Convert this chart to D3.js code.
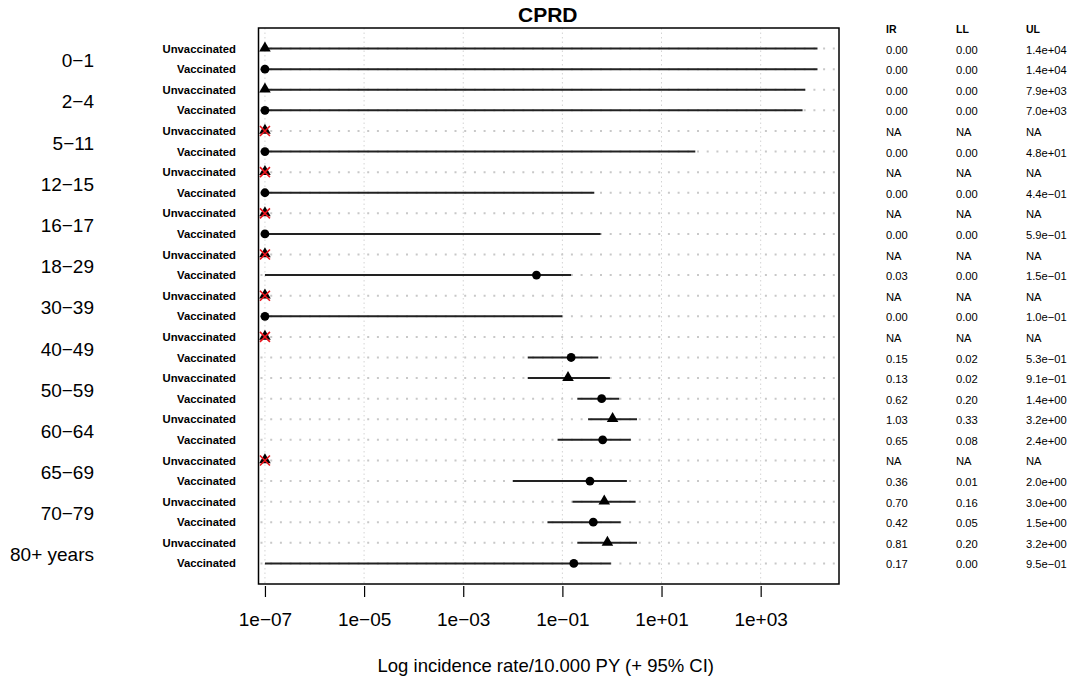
<!DOCTYPE html>
<html>
<head>
<meta charset="utf-8">
<script src="https://cdn.jsdelivr.net/npm/d3@7"></script>
<style>
  body { margin: 0; background: #fff; }
  svg { display: block; }
  text { font-family: "Liberation Sans", Arial, Helvetica, sans-serif; fill: #000; }
</style>
</head>
<body>
<svg id="chart" width="1068" height="679"></svg>
<script>
// ---------------- data ----------------
const title = "CPRD";
const ageGroups = ["0\u22121", "2\u22124", "5\u221211", "12\u221215", "16\u221217", "18\u221229",
  "30\u221239", "40\u221249", "50\u221259", "60\u221264", "65\u221269", "70\u221279", "80+ years"];
const status = ["Unvaccinated", "Vaccinated"];
// 26 rows: Unvaccinated / Vaccinated for each age group (null = NA)
const ir = [0.00, 0.00, 0.00, 0.00, null, 0.00, null, 0.00, null, 0.00, null, 0.03, null,
  0.00, null, 0.15, 0.13, 0.62, 1.03, 0.65, null, 0.36, 0.70, 0.42, 0.81, 0.17];
const ll = [0.00, 0.00, 0.00, 0.00, null, 0.00, null, 0.00, null, 0.00, null, 0.00, null,
  0.00, null, 0.02, 0.02, 0.20, 0.33, 0.08, null, 0.01, 0.16, 0.05, 0.20, 0.00];
const ul = [1.4e4, 1.4e4, 7.9e3, 7.0e3, null, 4.8e1, null, 4.4e-1, null, 5.9e-1, null, 1.5e-1, null,
  1.0e-1, null, 5.3e-1, 9.1e-1, 1.4, 3.2, 2.4, null, 2.0, 3.0, 1.5, 3.2, 9.5e-1];
const tickValues = [1e-7, 1e-5, 1e-3, 1e-1, 1e1, 1e3];
const tickLabels = ["1e\u221207", "1e\u221205", "1e\u221203", "1e\u221201", "1e+01", "1e+03"];
const tableHeaders = ["IR", "LL", "UL"];
const xTitle = "Log incidence rate/10.000 PY (+ 95% CI)";
const floorValue = 1e-7; // zero / NA values are drawn at the lower limit

// ---------------- layout ----------------
const box = { left: 258.5, right: 839, top: 28, bottom: 584 };
const nRows = ir.length;
const rows = d3.range(nRows).map(i => ({
  i,
  label: status[i % 2],
  ir: ir[i], ll: ll[i], ul: ul[i],
  na: ir[i] === null
}));

const svg = d3.select("#chart");

const x = d3.scaleLog()
  .domain([Math.pow(10, -7.13), Math.pow(10, 4.58)])
  .range([box.left, box.right]);
const y = d3.scaleLinear()
  .domain([-1, nRows])
  .range([box.top, box.bottom]);
const clampV = v => Math.max(v, floorValue);

// vertical dotted grid at ticks
svg.append("g").selectAll("line").data(tickValues).join("line")
  .attr("x1", d => x(d)).attr("x2", d => x(d))
  .attr("y1", box.top).attr("y2", box.bottom)
  .attr("stroke", "#d4d4d4").attr("stroke-width", 1)
  .attr("stroke-dasharray", "1.5 3");

// horizontal dotted grid per row
svg.append("g").selectAll("line").data(rows).join("line")
  .attr("x1", box.left).attr("x2", box.right)
  .attr("y1", d => y(d.i)).attr("y2", d => y(d.i))
  .attr("stroke", "#c8c8c8").attr("stroke-width", 2)
  .attr("stroke-dasharray", "2 7.7")
  .attr("stroke-dashoffset", -2);

// CI lines
svg.append("g").selectAll("line").data(rows.filter(d => !d.na)).join("line")
  .attr("x1", d => x(clampV(d.ll))).attr("x2", d => x(clampV(d.ul)))
  .attr("y1", d => y(d.i)).attr("y2", d => y(d.i))
  .attr("stroke", "#222").attr("stroke-width", 2);

// markers
const tri = d3.symbol().type(d3.symbolTriangle).size(58);
const marks = svg.append("g");
rows.forEach(d => {
  const cx = x(clampV(d.na ? floorValue : d.ir));
  const cy = y(d.i);
  if (d.label === "Unvaccinated") {
    marks.append("path").attr("d", tri()).attr("transform", `translate(${cx},${cy - 0.5})`).attr("fill", "#000");
  } else {
    marks.append("circle").attr("cx", cx).attr("cy", cy).attr("r", 4.4).attr("fill", "#000");
  }
  if (d.na) {
    const s = 5;
    marks.append("path")
      .attr("d", `M${cx - s},${cy - s}L${cx + s},${cy + s}M${cx - s},${cy + s}L${cx + s},${cy - s}`)
      .attr("stroke", "#e8141c").attr("stroke-width", 1.6).attr("fill", "none");
  }
});

// box
svg.append("rect")
  .attr("x", box.left).attr("y", box.top)
  .attr("width", box.right - box.left).attr("height", box.bottom - box.top)
  .attr("fill", "none").attr("stroke", "#000").attr("stroke-width", 1.5);

// title
svg.append("text").attr("x", (box.left + box.right) / 2 - 1).attr("y", 22)
  .attr("text-anchor", "middle").attr("font-size", 21).attr("font-weight", "bold").text(title);

// x axis (ticks + labels)
const axisG = svg.append("g").attr("transform", `translate(0,${box.bottom + 2})`);
const axis = d3.axisBottom(x).tickValues(tickValues)
  .tickFormat((d, i) => tickLabels[i]).tickSize(11).tickPadding(16);
axisG.call(axis);
axisG.select(".domain").remove();
axisG.selectAll(".tick line").attr("stroke", "#000").attr("stroke-width", 1.2);
axisG.selectAll(".tick text").attr("font-size", 19).attr("font-family", "Liberation Sans, Arial, sans-serif").attr("fill", "#000");

// x title
svg.append("text").attr("x", (box.left + box.right) / 2 - 3).attr("y", 672)
  .attr("text-anchor", "middle").attr("font-size", 18.5).text(xTitle);

// row labels
svg.append("g").selectAll("text").data(rows).join("text")
  .attr("x", 236).attr("y", d => y(d.i)).attr("dy", "0.36em")
  .attr("text-anchor", "end").attr("font-size", 11.3).attr("font-weight", "bold")
  .text(d => d.label);

// age group labels (centred on each pair of rows)
svg.append("g").selectAll("text").data(ageGroups).join("text")
  .attr("x", 94).attr("y", (d, k) => (y(2 * k) + y(2 * k + 1)) / 2 + 1.5).attr("dy", "0.36em")
  .attr("text-anchor", "end").attr("font-size", 19)
  .text(d => d);

// table on the right
const colX = [886, 956, 1026];
const fmtFixed = v => v === null ? "NA" : v.toFixed(2);
const fmtExp = v => {
  if (v === null) return "NA";
  const [m, e] = v.toExponential(1).split("e");
  const sign = e[0] === "-" ? "\u2212" : "+";
  const digits = e.replace(/[+-]/, "").padStart(2, "0");
  return `${m}e${sign}${digits}`;
};
svg.append("g").selectAll("text").data(tableHeaders).join("text")
  .attr("x", (d, k) => colX[k]).attr("y", 29).attr("dy", "0.36em")
  .attr("font-size", 10.5).attr("font-weight", "bold").text(d => d);
const cols = [d => fmtFixed(d.ir), d => fmtFixed(d.ll), d => fmtExp(d.ul)];
cols.forEach((f, k) => {
  svg.append("g").selectAll("text").data(rows).join("text")
    .attr("x", colX[k]).attr("y", d => y(d.i) + 1).attr("dy", "0.36em")
    .attr("font-size", 11.2).attr("fill", "#111").text(f);
});
</script>
</body>
</html>
